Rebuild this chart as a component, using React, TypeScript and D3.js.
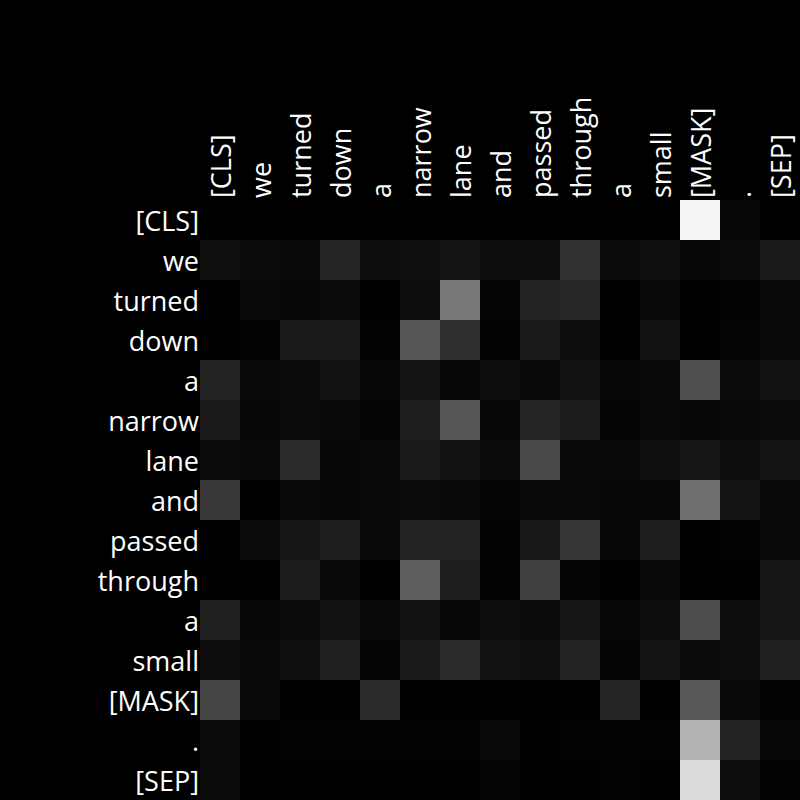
import { useEffect, useRef } from "react"
import * as d3 from "d3"

const tokens = [
  "[CLS]", "we", "turned", "down", "a", "narrow", "lane",
  "and", "passed", "through", "a", "small", "[MASK]", ".", "[SEP]",
]

// attention weights, one row per query token
const row0 = [0, 0, 0, 0, 0, 0, 0, 0, 0, 0, 0, 0, 0.961, 0.027, 0]
const row1 = [0.059, 0.047, 0.031, 0.145, 0.055, 0.063, 0.075, 0.051, 0.055, 0.196, 0.043, 0.059, 0.027, 0.043, 0.106]
const row2 = [0, 0.031, 0.027, 0.043, 0, 0.055, 0.467, 0.02, 0.133, 0.149, 0.004, 0.035, 0, 0.012, 0.035]
const row3 = [0, 0.012, 0.106, 0.098, 0.012, 0.333, 0.184, 0.012, 0.106, 0.051, 0.004, 0.071, 0, 0.016, 0.039]
const row4 = [0.133, 0.031, 0.043, 0.067, 0.027, 0.078, 0.027, 0.055, 0.039, 0.067, 0.024, 0.039, 0.314, 0.047, 0.067]
const row5 = [0.106, 0.024, 0.047, 0.039, 0.02, 0.118, 0.337, 0.024, 0.141, 0.11, 0.016, 0.039, 0.027, 0.035, 0.043]
const row6 = [0.047, 0.035, 0.169, 0.024, 0.031, 0.106, 0.067, 0.043, 0.282, 0.035, 0.031, 0.059, 0.082, 0.051, 0.078]
const row7 = [0.22, 0.004, 0.031, 0.024, 0.031, 0.047, 0.035, 0.016, 0.031, 0.031, 0.024, 0.027, 0.431, 0.075, 0.031]
const row8 = [0, 0.043, 0.082, 0.122, 0.031, 0.137, 0.137, 0.008, 0.094, 0.212, 0.027, 0.122, 0, 0.008, 0.039]
const row9 = [0, 0, 0.11, 0.031, 0, 0.369, 0.122, 0.012, 0.251, 0.02, 0, 0.031, 0, 0, 0.086]
const row10 = [0.125, 0.024, 0.043, 0.067, 0.031, 0.071, 0.024, 0.051, 0.043, 0.082, 0.024, 0.051, 0.298, 0.055, 0.086]
const row11 = [0.055, 0.031, 0.063, 0.129, 0.016, 0.098, 0.169, 0.071, 0.059, 0.133, 0.016, 0.075, 0.043, 0.055, 0.129]
const row12 = [0.271, 0.039, 0, 0, 0.169, 0, 0, 0.004, 0, 0, 0.141, 0, 0.341, 0.031, 0.012]
const row13 = [0.043, 0.004, 0.008, 0.008, 0.012, 0.012, 0.008, 0.035, 0.004, 0.008, 0.012, 0.012, 0.702, 0.133, 0.024]
const row14 = [0.043, 0, 0, 0, 0, 0, 0, 0.016, 0, 0, 0.008, 0.004, 0.863, 0.055, 0.012]

const weights = [
  row0, row1, row2, row3, row4, row5, row6, row7,
  row8, row9, row10, row11, row12, row13, row14,
]

const SIZE = 800
const LEFT = 200
const TOP = 200
const FONT = "'Open Sans', sans-serif"
const FONT_SIZE = 27

export default function App() {
  const svgRef = useRef<SVGSVGElement>(null)

  useEffect(() => {
    const svg = svgRef.current
    if (!svg) return
    const root = d3.select(svg)
    root.selectAll("*").remove()

    const idx = tokens.map((_, i) => String(i))
    const x = d3.scaleBand().domain(idx).range([LEFT, SIZE])
    const y = d3.scaleBand().domain(idx).range([TOP, SIZE])
    const color = d3.scaleLinear<string>().domain([0, 1]).range(["#000", "#fff"])

    root.append("rect").attr("width", SIZE).attr("height", SIZE).attr("fill", "#000")

    const cells = weights.flatMap((row, r) =>
      row.map((v, c) => ({ r: String(r), c: String(c), v }))
    )

    root.append("g")
      .selectAll("rect")
      .data(cells)
      .join("rect")
      .attr("x", (d) => x(d.c)!)
      .attr("y", (d) => y(d.r)!)
      .attr("width", x.bandwidth())
      .attr("height", y.bandwidth())
      .attr("fill", (d) => color(d.v))
      .attr("shape-rendering", "crispEdges")

    // row labels
    root.append("g")
      .selectAll("text")
      .data(tokens)
      .join("text")
      .attr("x", LEFT - 1)
      .attr("y", (_, i) => y(String(i))! + y.bandwidth() / 2)
      .attr("text-anchor", "end")
      .attr("dominant-baseline", "central")
      .attr("fill", "#fff")
      .attr("font-family", FONT)
      .attr("font-size", FONT_SIZE)
      .text((d) => d)

    // column labels, rotated
    root.append("g")
      .selectAll("text")
      .data(tokens)
      .join("text")
      .attr("transform", (_, i) =>
        `translate(${x(String(i))! + x.bandwidth() / 2},${TOP - 2}) rotate(-90)`)
      .attr("text-anchor", "start")
      .attr("dominant-baseline", "central")
      .attr("fill", "#fff")
      .attr("font-family", FONT)
      .attr("font-size", FONT_SIZE)
      .text((d) => d)
  }, [])

  return (
    <svg
      ref={svgRef}
      width={SIZE}
      height={SIZE}
      style={{ position: "absolute", left: 0, top: 0, display: "block" }}
    />
  )
}
